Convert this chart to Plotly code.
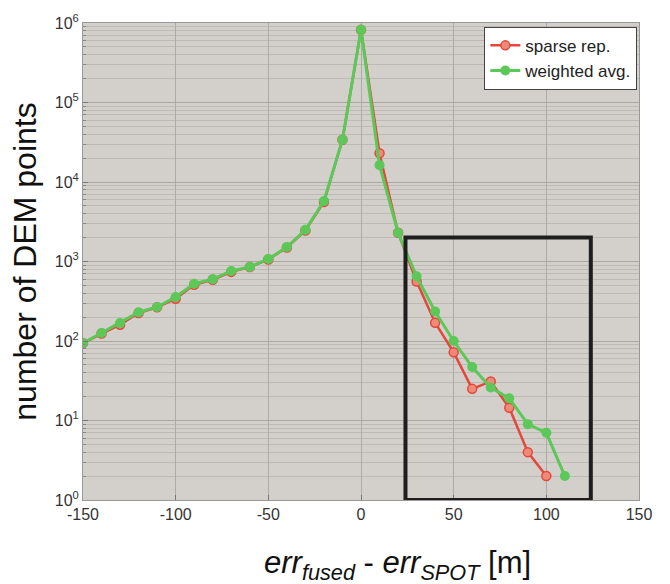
import plotly.graph_objects as go

x_vals = [-150, -140, -130, -120, -110, -100, -90, -80, -70, -60, -50, -40, -30, -20, -10, 0,
          10, 20, 30, 40, 50, 60, 70, 80, 90, 100, 110]
weighted_avg = [94, 126, 168, 230, 268, 357, 525, 600, 760, 855, 1075, 1520, 2500, 5750, 34000, 820000,
                16300, 2300, 650, 235, 100, 47, 26, 19, 9, 7, 2]
sparse_x = [-150, -140, -130, -120, -110, -100, -90, -80, -70, -60, -50, -40, -30, -20, -10, 0,
            10, 20, 30, 40, 50, 60, 70, 80, 90, 100]
sparse_rep = [94, 124, 160, 225, 265, 340, 510, 590, 740, 850, 1060, 1500, 2450, 5600, 34000, 820000,
              23000, 2300, 560, 170, 72, 25, 31, 14.5, 4, 2]

x_ticks = [-150, -100, -50, 0, 50, 100, 150]
y_ticks = [1, 10, 100, 1000, 10000, 100000, 1000000]
y_ticktext = ["10<sup>%d</sup>" % i for i in range(7)]
minor_y = [k * 10 ** d for d in range(6) for k in range(2, 10)]

box_x = [24, 124]
box_y = [1, 2000]

fig = go.Figure()
fig.add_trace(go.Scatter(x=sparse_x, y=sparse_rep, mode="lines+markers", name="sparse rep.",
                         line=dict(color="#e4473b", width=2.5),
                         marker=dict(symbol="circle", size=9, color="#f08a78",
                                     line=dict(color="#e4473b", width=1.5))))
fig.add_trace(go.Scatter(x=x_vals, y=weighted_avg, mode="lines+markers", name="weighted avg.",
                         line=dict(color="#5cc858", width=3),
                         marker=dict(symbol="circle", size=10, color="#5cc858")))

fig.add_shape(type="rect", xref="x", yref="y", x0=box_x[0], x1=box_x[1], y0=box_y[0], y1=box_y[1],
              line=dict(color="#1e1e1e", width=4), fillcolor="rgba(0,0,0,0)")

fig.add_annotation(text="<i>err<sub>fused</sub></i> - <i>err<sub>SPOT</sub></i> [m]",
                   xref="paper", yref="paper", x=0.565, y=-0.137,
                   xanchor="center", yanchor="middle", showarrow=False,
                   font=dict(size=31, color="#111111", family="Liberation Sans, Arial"))

fig.update_layout(
    width=670, height=584,
    margin=dict(l=83, r=31, t=23, b=84),
    paper_bgcolor="white",
    plot_bgcolor="#d3d0cb",
    font=dict(family="Liberation Sans, Arial", color="#333333", size=16),
    showlegend=True,
    legend=dict(x=0.997, y=0.992, xanchor="right", yanchor="top",
                bgcolor="white", bordercolor="#444444", borderwidth=1,
                font=dict(size=17, color="#222222"), itemwidth=30,
                tracegroupgap=0),
    xaxis=dict(range=[-150, 150], tickvals=x_ticks, ticktext=[str(v) for v in x_ticks],
               showgrid=True, gridcolor="#adaba7", gridwidth=1, zeroline=False,
               ticks="inside", ticklen=5, tickcolor="#777777",
               showline=True, linecolor="#999999", mirror=True),
    yaxis=dict(type="log", range=[0, 6], tickvals=y_ticks, ticktext=y_ticktext,
               showgrid=True, gridcolor="#a9a7a3", gridwidth=1, zeroline=False,
               ticks="inside", ticklen=5, tickcolor="#777777",
               showline=True, linecolor="#999999", mirror=True,
               minor=dict(tickvals=minor_y, showgrid=True, gridcolor="#bdbab5", gridwidth=1,
                          ticks="inside", ticklen=3, tickcolor="#888888"),
               title=dict(text="number of DEM points", font=dict(size=32, color="#111111"),
                          standoff=8)),
)

fig.write_html("out.html")
